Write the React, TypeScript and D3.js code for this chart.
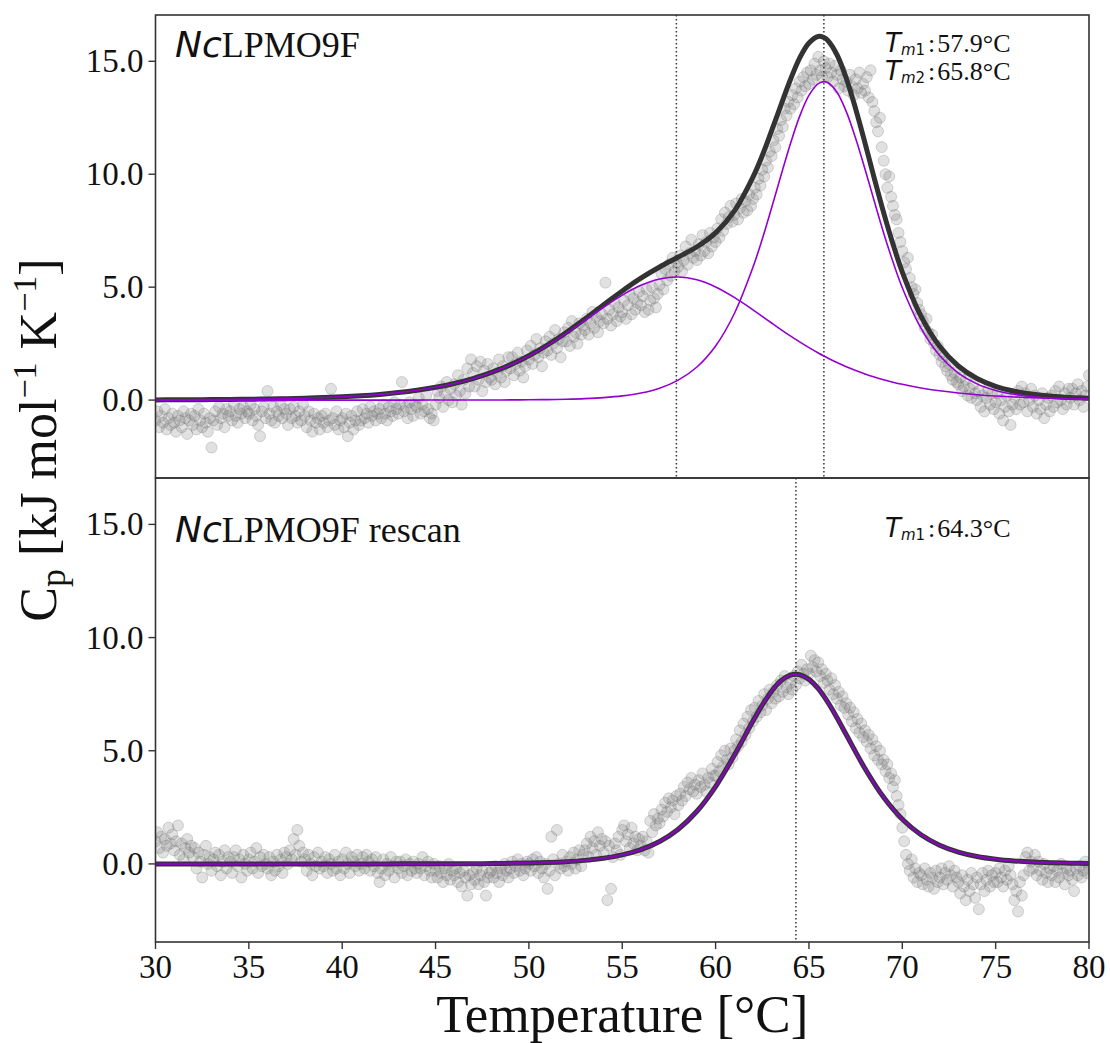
import React from "react";
import * as d3 from "d3";

// ---------- measured data (Cp, kJ mol^-1 K^-1), temperature 30.0 .. 80.0 step 0.1 ----------
const dataStart = 30;
const dataStep = 0.1;

const topData: number[] = [
  -0.9,-0.5,-1.2,-0.7,-1.0,-0.4,-1.3,-0.8,-1.1,-0.6,
  -1.0,-1.4,-0.7,-0.9,-1.2,-0.5,-0.8,-1.5,-0.9,-0.6,
  -1.1,-0.7,-1.3,-0.4,-0.9,-1.2,-0.6,-1.0,-1.4,-0.8,
  -2.1,-0.9,-0.5,-1.1,-0.3,-0.8,-0.6,-1.2,-0.4,-0.7,
  -0.5,-0.9,-0.2,-0.7,-1.0,-0.4,-0.6,-0.3,-0.8,-0.5,
  -0.6,-0.2,-0.9,-0.4,-0.7,-1.1,-1.6,-0.5,-0.3,-0.8,
  0.4,-0.6,-0.9,-0.3,-1.0,-0.5,-0.7,-0.2,-0.8,-0.4,
  -0.6,-1.1,-0.4,-0.8,-0.3,-0.7,-1.0,-0.5,-0.9,-0.2,
  -0.7,-1.2,-0.5,-0.9,-1.4,-0.6,-1.0,-0.8,-1.3,-0.7,
  -1.0,-0.6,-1.2,-0.9,0.5,-0.8,-1.1,-0.5,-1.3,-0.9,
  -0.8,-1.2,-0.6,-1.6,-1.0,-0.7,-1.3,-0.9,-0.5,-1.1,
  -0.9,-0.4,-0.8,-0.6,-1.0,-0.3,-0.7,-0.5,-0.9,-0.6,
  -0.4,-0.8,-0.2,-0.6,-0.9,-0.3,-0.5,-0.7,-0.1,-0.4,
  -0.6,-0.2,0.8,-0.5,-0.3,-0.8,-0.1,-0.4,-0.7,-0.2,
  -0.3,0.1,-0.6,-0.2,-0.5,0.2,-0.4,-0.8,-0.6,-0.9,
  -0.2,0.4,0.1,0.6,-0.3,0.3,0.8,0.0,0.5,-0.1,
  0.7,0.2,1.1,0.4,-0.2,0.9,0.3,1.4,0.6,1.8,
  1.2,0.6,1.5,0.9,1.7,0.4,1.3,0.8,1.6,1.0,
  0.9,1.4,0.7,1.2,1.8,1.0,1.5,0.8,1.3,1.9,
  1.4,1.9,1.1,1.6,2.1,1.3,1.7,1.0,1.5,2.2,
  1.8,2.4,1.6,2.0,2.7,1.9,2.3,1.5,2.1,2.6,
  2.2,2.8,2.0,2.5,3.1,2.3,2.7,1.9,2.6,3.0,
  2.6,3.2,2.4,3.5,2.8,3.0,2.5,3.4,2.9,3.3,
  3.1,3.6,2.9,3.4,3.9,3.2,3.7,3.0,3.5,3.8,
  3.4,5.2,3.6,4.0,3.3,3.8,4.3,3.5,4.1,3.7,
  3.9,4.4,3.6,4.2,4.7,3.8,4.5,4.0,4.3,4.8,
  4.2,4.6,3.9,4.9,4.0,4.4,5.0,4.5,4.1,4.7,
  5.1,5.6,4.9,5.8,5.3,6.0,5.5,6.3,5.7,6.1,
  5.9,6.4,5.7,6.2,6.8,6.0,6.5,7.1,6.3,6.6,
  6.2,6.9,6.4,7.3,6.6,7.0,6.5,7.4,6.8,7.2,
  7.0,7.6,7.2,8.0,7.5,8.3,7.8,8.1,8.6,7.9,
  8.2,8.7,8.0,8.5,8.9,8.3,8.8,8.4,9.1,8.6,
  8.9,9.4,9.1,9.8,9.5,10.2,9.9,10.6,10.3,11.0,
  10.8,11.5,11.2,12.0,11.7,12.4,12.1,12.9,12.6,13.2,
  12.9,13.5,13.1,13.8,13.4,14.1,13.7,14.3,13.9,14.5,
  14.0,14.6,14.2,14.9,14.4,15.2,14.6,14.3,15.0,14.7,
  14.3,14.9,14.5,14.1,14.8,14.4,13.8,14.6,14.2,13.9,
  14.1,13.7,14.4,13.9,13.5,14.2,13.8,14.5,13.6,14.0,
  13.7,14.3,13.4,14.6,13.2,12.8,12.3,11.9,12.5,11.2,
  10.6,10.0,9.4,9.9,9.0,8.6,8.2,8.0,7.4,7.0,
  6.6,6.1,5.8,6.3,5.4,5.0,4.7,4.9,4.3,4.0,
  3.8,3.5,3.2,3.6,3.0,2.7,2.9,2.5,2.2,2.4,
  2.0,1.7,1.9,1.5,1.3,1.6,1.1,0.9,1.2,0.8,
  0.7,1.0,0.4,0.6,0.9,0.2,0.5,0.1,0.7,0.3,
  0.0,0.4,-0.3,0.2,-0.5,0.1,0.5,-0.2,0.3,-0.4,
  -0.1,0.3,-0.6,0.0,-0.9,-0.3,0.2,-0.5,-1.1,-0.2,
  0.1,-0.4,0.4,-0.2,0.6,-0.1,0.3,-0.5,0.0,0.5,
  -0.3,0.2,-0.6,0.0,-0.4,0.3,-0.8,-0.2,0.1,-0.5,
  0.2,-0.3,0.4,-0.1,0.6,0.0,-0.4,0.3,-0.2,0.5,
  0.1,0.5,-0.2,0.3,0.7,0.0,0.4,-0.3,0.2,0.6,
  1.1,
];

const bottomData: number[] = [
  1.0,1.4,0.7,1.2,0.5,1.1,0.8,1.6,0.9,1.3,
  0.6,1.0,1.7,0.4,0.9,0.2,0.7,1.1,0.5,0.8,
  0.3,0.7,-0.2,0.5,0.1,-0.6,0.4,0.8,0.0,0.3,
  -0.3,0.2,0.5,-0.1,0.4,-0.5,0.1,0.6,-0.2,0.3,
  0.1,-0.4,0.3,0.6,-0.1,0.2,-0.6,0.4,0.0,-0.3,
  0.2,0.5,-0.2,0.1,0.7,-0.4,0.3,-0.1,0.4,0.0,
  -0.2,0.3,-0.5,0.1,-0.3,0.4,-0.1,0.2,-0.4,0.5,
  0.3,0.0,0.6,0.2,1.1,0.4,1.5,0.8,0.1,0.5,
  0.2,-0.3,0.4,0.0,-0.5,0.3,-0.1,0.5,-0.2,0.1,
  -0.1,0.3,-0.4,0.2,0.0,-0.3,0.4,-0.2,0.1,-0.5,
  0.2,-0.2,0.5,0.0,-0.4,0.3,0.1,-0.1,0.4,-0.3,
  0.0,0.3,-0.2,0.4,0.1,-0.3,0.2,-0.1,0.3,-0.4,
  -0.8,-0.2,0.2,-0.5,0.0,-0.3,0.3,-0.1,-0.6,0.1,
  -0.2,0.1,-0.4,-0.1,0.2,-0.5,0.0,-0.3,0.1,-0.2,
  -0.4,0.0,-0.2,0.3,-0.5,-0.1,0.1,-0.3,-0.6,0.0,
  -0.3,-0.6,-0.1,-0.4,-0.8,-0.2,-0.5,0.0,-0.7,-0.3,
  -0.5,-0.2,-0.8,-0.4,-1.0,-0.3,-0.6,-1.4,-0.5,-0.9,
  -0.4,-0.7,-0.2,-0.9,-0.5,-0.3,-0.8,-1.4,-0.6,-0.4,
  -0.3,-0.6,-0.1,-0.4,-0.8,-0.2,-0.5,0.0,-0.3,-0.6,
  -0.2,0.1,-0.4,-0.1,0.2,-0.3,0.0,-0.5,-0.2,0.1,
  0.0,-0.3,0.2,-0.1,0.3,-0.4,0.1,-0.2,-0.6,0.0,
  -1.1,-0.3,1.2,0.2,-0.5,1.5,0.0,-0.2,0.4,-0.1,
  0.1,-0.3,0.3,0.0,0.5,-0.2,0.2,0.6,-0.1,0.4,
  0.6,0.9,0.3,1.2,0.7,1.0,0.4,1.4,0.8,1.1,
  0.5,1.0,-1.6,0.8,-1.1,0.3,0.9,0.6,1.2,0.4,
  1.5,1.7,1.0,1.3,0.7,1.6,0.9,1.2,0.6,1.1,
  0.8,1.2,0.6,1.0,0.5,1.9,1.4,2.2,1.7,2.0,
  1.8,2.4,2.1,2.7,2.3,2.9,2.5,2.8,2.2,3.0,
  2.6,3.1,2.8,3.4,3.0,3.6,3.3,3.8,3.2,3.5,
  3.1,3.7,3.4,4.0,3.5,3.2,3.8,3.6,4.2,3.9,
  3.9,4.5,4.1,4.8,4.3,5.0,4.6,4.4,5.1,4.7,
  5.0,5.5,5.2,5.9,5.4,6.2,5.7,6.5,6.0,6.8,
  6.3,6.9,6.5,7.2,6.7,7.0,7.5,6.8,7.3,7.7,
  7.1,7.6,7.3,7.9,7.4,8.1,7.6,8.3,7.8,7.5,
  8.0,7.7,8.3,7.9,8.5,8.2,8.8,8.4,8.1,8.6,
  8.4,9.2,8.7,9.0,8.5,8.9,8.3,8.6,8.0,8.4,
  8.1,7.7,8.2,7.5,7.9,7.3,7.6,7.0,7.4,6.9,
  7.1,6.6,6.9,6.3,6.7,6.0,6.4,5.8,6.2,5.6,
  5.9,5.4,5.7,5.1,5.5,4.8,5.2,4.6,5.0,4.4,
  4.6,4.1,4.4,3.8,4.0,3.4,3.7,3.0,2.6,2.2,
  1.6,1.0,0.4,0.0,-0.3,0.2,-0.6,-0.2,-0.8,-0.4,
  -0.5,-0.9,-0.2,-0.7,-1.0,-0.4,-0.6,-1.1,-0.3,-0.8,
  -0.6,-0.2,-0.9,-0.4,-0.7,-0.1,-0.5,-1.0,-0.3,-0.6,
  -0.8,-1.3,-0.5,-1.0,-1.6,-0.7,-1.2,-0.4,-0.9,-1.5,
  -0.6,-2.0,-0.9,-0.4,-1.2,-0.7,-0.3,-1.0,-0.5,-0.8,
  -0.4,-0.8,-0.2,-0.6,-1.0,-0.3,-0.7,-0.1,-0.5,-0.9,
  -1.6,-1.2,-2.1,-0.8,-1.4,-0.5,0.3,0.5,-0.3,0.1,
  -0.2,0.4,-0.5,0.1,-0.3,-0.7,0.0,-0.4,-0.8,-0.2,
  -0.5,-0.1,-0.8,-0.3,-0.6,0.0,-0.4,-0.9,-0.2,-0.5,
  -0.3,-0.7,-1.2,-0.2,-0.5,-0.1,-0.6,-0.3,0.1,-0.4,
  -0.2,
];

// ---------- fitted curves ----------
const topFitTemps: number[] = [
  30,31,32,33,34,35,36,37,38,39,40,41,42,43,44,45,46,47,48,49,50,51,52,53,54,55,56,57,58,59,60,61,62,
  62.5,63,63.5,64,64.5,65,65.5,65.8,66,66.5,67,67.5,68,68.5,69,69.5,
  70,71,72,73,74,75,76,77,78,79,80,
];
const topComp1: number[] = [
  0.009,0.012,0.016,0.021,0.028,0.037,0.048,0.064,0.084,0.111,0.146,0.192,0.252,0.331,0.433,0.565,0.733,0.949,1.219,1.551,1.952,2.422,2.954,3.529,4.109,4.647,5.084,5.365,5.45,5.324,5.008,4.545,3.995,
  3.704,3.412,3.123,2.843,2.576,2.322,2.086,1.952,1.866,1.664,1.478,1.311,1.159,1.024,0.902,0.793,
  0.697,0.536,0.41,0.313,0.239,0.182,0.138,0.105,0.079,0.061,0.046,
];
const topComp2: number[] = [
  0,0,0,0,0,0,0,0,0,0,0,0,0,0,0,0.001,0.002,0.003,0.005,0.008,0.013,0.022,0.038,0.065,0.11,0.185,0.312,0.526,0.882,1.464,2.396,3.823,5.877,
  7.13,8.513,9.94,11.33,12.56,13.49,14.01,14.1,14.06,13.63,12.77,11.59,10.23,8.8,7.4,6.12,
  4.976,3.184,1.97,1.198,0.718,0.427,0.255,0.15,0.088,0.052,0.031,
];
const topTotal: number[] = [
  0.009,0.012,0.016,0.021,0.028,0.037,0.048,0.064,0.084,0.111,0.146,0.192,0.252,0.331,0.433,0.566,0.735,0.952,1.224,1.559,1.965,2.444,2.992,3.594,4.219,4.832,5.396,5.891,6.332,6.788,7.404,8.368,9.872,
  10.83,11.93,13.06,14.17,15.14,15.81,16.1,16.05,15.93,15.29,14.25,12.9,11.39,9.82,8.3,6.91,
  5.67,3.72,2.38,1.51,0.957,0.609,0.393,0.255,0.167,0.113,0.077,
];

const bottomFitTemps: number[] = [
  30,31,32,33,34,35,36,37,38,39,40,41,42,43,44,45,46,47,48,49,50,51,52,53,54,55,56,57,58,59,60,61,62,
  62.5,63,63.5,64,64.3,64.5,65,65.5,66,66.5,
  67,68,69,70,71,72,73,74,75,76,77,78,79,80,
];
const bottomFit: number[] = [
  0,0,0,0,0,0,0,0,0,0,0,0.001,0.001,0.002,0.003,0.004,0.006,0.01,0.015,0.024,0.038,0.062,0.098,0.156,0.25,0.398,0.631,0.99,1.534,2.326,3.419,4.797,6.312,
  7.02,7.632,8.09,8.338,8.38,8.36,8.153,7.74,7.155,6.46,
  5.705,4.215,2.942,1.975,1.291,0.828,0.525,0.331,0.209,0.131,0.081,0.051,0.031,0.02,
];

const topTm: number[] = [57.9, 65.8];
const bottomTm: number[] = [64.3];
const topTmLabels: string[] = ["57.9", "65.8"];
const bottomTmLabels: string[] = ["64.3"];

const xTicks: number[] = [30, 35, 40, 45, 50, 55, 60, 65, 70, 75, 80];
const yTicks: number[] = [0, 5, 10, 15];

// ---------- layout ----------
const W = 1110;
const H = 1043;
const left = 155.5;
const right = 1089;
const topY0 = 15;
const mid = 478;
const bottomY1 = 942;
const yDomain: [number, number] = [-3.45, 17.05];

const SERIF = "'Liberation Serif', 'Times New Roman', serif";
const SANS = "'DejaVu Sans', sans-serif";
const PURPLE = "#9400D3";
const DARK = "#333333";

const x = d3.scaleLinear().domain([30, 80]).range([left, right]);
const yTop = d3.scaleLinear().domain(yDomain).range([mid, topY0]);
const yBot = d3.scaleLinear().domain(yDomain).range([bottomY1, mid]);

function fitPath(temps: number[], vals: number[], y: d3.ScaleLinear<number, number>) {
  const line = d3
    .line<number>()
    .x((_, i) => x(temps[i]))
    .y((v) => y(v))
    .curve(d3.curveCatmullRom.alpha(0.5));
  return line(vals) || "";
}

function Scatter({ data, y }: { data: number[]; y: d3.ScaleLinear<number, number> }) {
  return (
    <g>
      {data.map((v, i) => (
        <circle
          key={i}
          cx={x(dataStart + i * dataStep)}
          cy={y(v)}
          r={5.5}
          fill="#777777"
          fillOpacity={0.22}
          stroke="#777777"
          strokeOpacity={0.3}
          strokeWidth={1}
        />
      ))}
    </g>
  );
}

// one <text> per annotation block, lines as tspans
function TmBlock({ xPos, yPos, values }: { xPos: number; yPos: number; values: string[] }) {
  const parts: React.ReactNode[] = [];
  values.forEach((v, i) => {
    parts.push(
      <tspan key={`T${i}`} x={xPos} dy={i === 0 ? 0 : 28} fontFamily={SANS} fontStyle="italic">T</tspan>,
      <tspan key={`m${i}`} fontFamily={SANS} fontStyle="italic" fontSize={15} dy={3}>m</tspan>,
      <tspan key={`n${i}`} fontFamily={SANS} fontSize={15}>{String(i + 1)}</tspan>,
      <tspan key={`c${i}`} dy={-3} dx={3}>:</tspan>,
      <tspan key={`v${i}`} dx={2}>{v}°C</tspan>
    );
  });
  return (
    <text x={xPos} y={yPos} fontSize={26} fontFamily={SERIF} fill="#111">
      {parts}
    </text>
  );
}

export default function App() {
  return (
    <svg
      width={W}
      height={H}
      viewBox={`0 0 ${W} ${H}`}
      style={{ position: "absolute", left: 0, top: 0, background: "#fff" }}
    >
      <defs>
        <clipPath id="clipTop">
          <rect x={left} y={topY0} width={right - left} height={mid - topY0} />
        </clipPath>
        <clipPath id="clipBot">
          <rect x={left} y={mid} width={right - left} height={bottomY1 - mid} />
        </clipPath>
      </defs>
      <rect x={0} y={0} width={W} height={H} fill="#fff" />

      {/* top panel */}
      <g clipPath="url(#clipTop)">
        <Scatter data={topData} y={yTop} />
        {topTm.map((t, i) => (
          <line key={i} x1={x(t)} x2={x(t)} y1={topY0} y2={mid} stroke={DARK} strokeWidth={1.5} strokeDasharray="1.5,2.5" />
        ))}
        <path d={fitPath(topFitTemps, topTotal, yTop)} fill="none" stroke={DARK} strokeWidth={5} />
        <path d={fitPath(topFitTemps, topComp1, yTop)} fill="none" stroke={PURPLE} strokeWidth={1.6} />
        <path d={fitPath(topFitTemps, topComp2, yTop)} fill="none" stroke={PURPLE} strokeWidth={1.6} />
      </g>

      {/* bottom panel */}
      <g clipPath="url(#clipBot)">
        <Scatter data={bottomData} y={yBot} />
        {bottomTm.map((t, i) => (
          <line key={i} x1={x(t)} x2={x(t)} y1={mid} y2={bottomY1} stroke={DARK} strokeWidth={1.5} strokeDasharray="1.5,2.5" />
        ))}
        <path d={fitPath(bottomFitTemps, bottomFit, yBot)} fill="none" stroke={DARK} strokeWidth={5} />
        <path d={fitPath(bottomFitTemps, bottomFit, yBot)} fill="none" stroke={PURPLE} strokeWidth={2.2} strokeOpacity={0.85} />
      </g>

      {/* frames */}
      <rect x={left} y={topY0} width={right - left} height={mid - topY0} fill="none" stroke={DARK} strokeWidth={1.6} />
      <rect x={left} y={mid} width={right - left} height={bottomY1 - mid} fill="none" stroke={DARK} strokeWidth={1.6} />

      {/* y ticks */}
      {[yTop, yBot].map((y, p) =>
        yTicks.map((t) => (
          <g key={`${p}-${t}`}>
            <line x1={left - 7} x2={left} y1={y(t)} y2={y(t)} stroke={DARK} strokeWidth={1.4} />
            <text x={left - 12} y={y(t) + 11} textAnchor="end" fontSize={33} fontFamily={SERIF} fill="#111">
              {t.toFixed(1)}
            </text>
          </g>
        ))
      )}

      {/* x ticks */}
      {xTicks.map((t) => (
        <g key={t}>
          <line x1={x(t)} x2={x(t)} y1={bottomY1} y2={bottomY1 + 7} stroke={DARK} strokeWidth={1.4} />
          <text x={x(t)} y={978} textAnchor="middle" fontSize={33} fontFamily={SERIF} fill="#111">
            {t}
          </text>
        </g>
      ))}

      {/* axis labels */}
      <text x={(left + right) / 2} y={1032} textAnchor="middle" fontSize={53} fontFamily={SERIF} fill="#111">
        Temperature [°C]
      </text>
      <text transform="translate(56,440) rotate(-90)" textAnchor="middle" fontSize={52} fontFamily={SERIF} fill="#111">
        C<tspan fontSize={36} dy={9}>p</tspan>
        <tspan dy={-9}> [kJ mol</tspan>
        <tspan fontSize={34} dy={-20}>−1</tspan>
        <tspan dy={20}> K</tspan>
        <tspan fontSize={34} dy={-20}>−1</tspan>
        <tspan dy={20}>]</tspan>
      </text>

      {/* panel titles */}
      <text x={175} y={57} fontSize={36} fontFamily={SERIF} fill="#111">
        <tspan fontFamily={SANS} fontStyle="italic">Nc</tspan>LPMO9F
      </text>
      <text x={175} y={542} fontSize={36} fontFamily={SERIF} fill="#111">
        <tspan fontFamily={SANS} fontStyle="italic">Nc</tspan>LPMO9F rescan
      </text>

      {/* Tm annotations */}
      <TmBlock xPos={885} yPos={52} values={topTmLabels} />
      <TmBlock xPos={885} yPos={537} values={bottomTmLabels} />
    </svg>
  );
}
